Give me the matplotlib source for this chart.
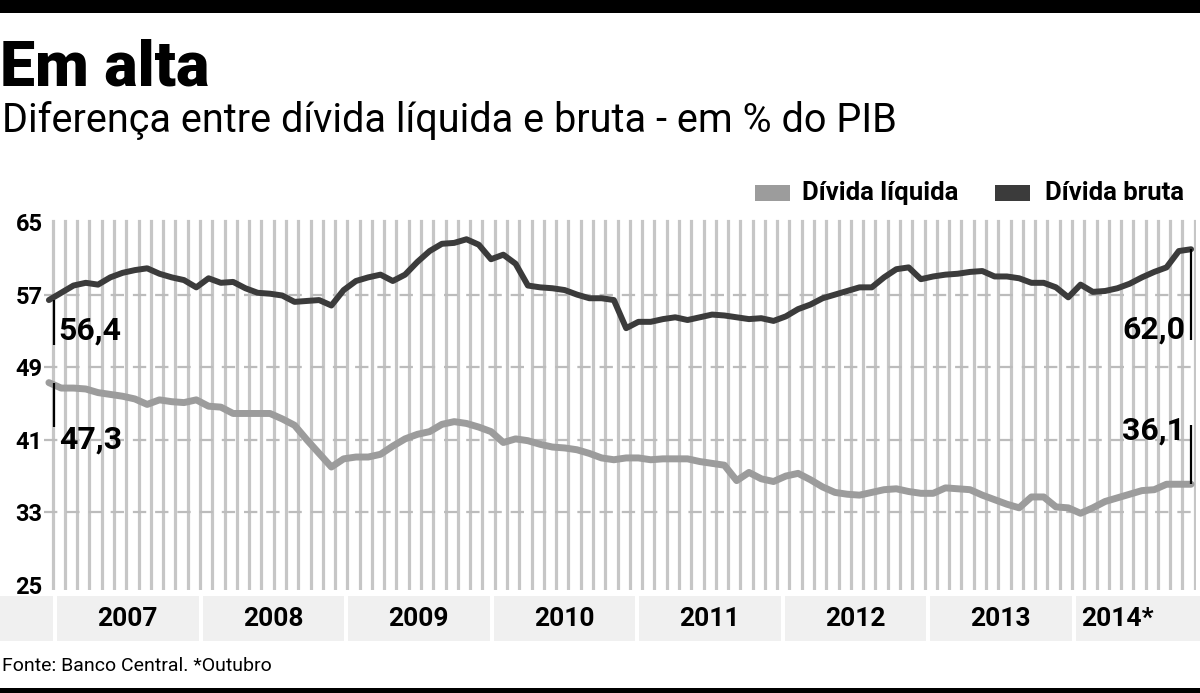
import matplotlib
matplotlib.use("Agg")
import matplotlib.pyplot as plt
from matplotlib.patches import Rectangle
import numpy as np

# monthly values, Jan 2007 .. Oct 2014 (% do PIB)
divida_bruta = [
    56.4, 57.2, 58.0, 58.3, 58.1, 58.9, 59.4, 59.7, 59.9, 59.3, 58.9, 58.6,
    57.8, 58.8, 58.3, 58.4, 57.7, 57.2, 57.1, 56.9, 56.2, 56.3, 56.4, 55.8,
    57.5, 58.5, 58.9, 59.2, 58.5, 59.2, 60.6, 61.8, 62.6, 62.7, 63.1, 62.5,
    60.9, 61.4, 60.4, 58.0, 57.8, 57.7, 57.5, 57.0, 56.6, 56.6, 56.4, 53.3,
    54.0, 54.0, 54.3, 54.5, 54.2, 54.5, 54.8, 54.7, 54.5, 54.3, 54.4, 54.1,
    54.6, 55.4, 55.9, 56.6, 57.0, 57.4, 57.8, 57.8, 58.9, 59.8, 60.0, 58.7,
    59.0, 59.2, 59.3, 59.5, 59.6, 59.0, 59.0, 58.8, 58.3, 58.3, 57.8, 56.7,
    58.1, 57.3, 57.4, 57.7, 58.2, 58.9, 59.5, 60.0, 61.8, 62.0,
]
divida_liquida = [
    47.3, 46.7, 46.7, 46.6, 46.2, 46.0, 45.8, 45.5, 44.9, 45.4, 45.2, 45.1,
    45.4, 44.7, 44.6, 43.9, 43.9, 43.9, 43.9, 43.3, 42.6, 41.0, 39.5, 38.0,
    38.9, 39.1, 39.1, 39.4, 40.3, 41.1, 41.6, 41.9, 42.7, 43.0, 42.8, 42.4,
    41.9, 40.7, 41.1, 40.9, 40.5, 40.2, 40.1, 39.9, 39.5, 39.0, 38.8, 39.0,
    39.0, 38.8, 38.9, 38.9, 38.9, 38.6, 38.4, 38.2, 36.5, 37.4, 36.7, 36.4,
    37.0, 37.3, 36.6, 35.8, 35.2, 35.0, 34.9, 35.2, 35.5, 35.6, 35.3, 35.1,
    35.1, 35.7, 35.6, 35.5, 34.9, 34.4, 33.9, 33.5, 34.7, 34.7, 33.6, 33.5,
    32.9, 33.5, 34.2, 34.6, 35.0, 35.4, 35.5, 36.1, 36.1, 36.1,
]
year_labels = ["2007", "2008", "2009", "2010", "2011", "2012", "2013", "2014*"]
y_ticks = [25, 33, 41, 49, 57, 65]

DARK = "#3b3b3b"
LIGHT = "#9c9c9c"
STRIPE = "#c6c6c6"
BAND = "#f0f0f0"
FONT = ["Roboto", "DejaVu Sans"]

W, H = 1200, 693
plt.rcParams["font.family"] = FONT
fig = plt.figure(figsize=(W / 100, H / 100), dpi=100)


def fx(px):
    return px / W


def fy(py):
    return 1 - py / H


def fmt(v):
    return f"{v:.1f}".replace(".", ",")


n = len(divida_bruta)
x = np.arange(n)
x_lo, x_hi = -0.4, n - 1 + 0.4
y_lo, y_hi = 24.5, 65.3
# axes placed so that the scale matches the reference pixel grid
ax = fig.add_axes([fx(44), fy(589.5), fx(1196 - 44), (589.5 - 219.3) / H])
ax.set_xlim(x_lo, x_hi)
ax.set_ylim(y_lo, y_hi)

for i in x:
    ax.axvline(i + 0.3, ymin=0.005, ymax=0.995, color=STRIPE, lw=2.3, zorder=1)
for t in y_ticks[1:-1]:
    ax.axhline(t, color="#bcbcbc", lw=1.6, dashes=(6, 4), zorder=1.5)

ax.plot(x, divida_liquida, color=LIGHT, lw=5.0, solid_capstyle="round",
        solid_joinstyle="round", zorder=3)
ax.plot(x, divida_bruta, color=DARK, lw=4.3, solid_capstyle="round",
        solid_joinstyle="round", zorder=4)

# value callouts
lab_kw = dict(fontsize=23, fontweight="bold", color="black", zorder=6)
first, last = 0, n - 1
ax.vlines(first + 0.45, divida_bruta[first], 51.4, color="black", lw=1.6, zorder=5)
ax.text(first + 0.8, 53.0, fmt(divida_bruta[first]), ha="left", va="center", **lab_kw)
ax.vlines(first + 0.45, divida_liquida[first], 42.4, color="black", lw=1.6, zorder=5)
ax.text(first + 0.8, 41.0, fmt(divida_liquida[first]), ha="left", va="center", **lab_kw)
ax.vlines(last, divida_bruta[last], 52.0, color="black", lw=1.6, zorder=5)
ax.text(last - 0.5, 53.1, fmt(divida_bruta[last]), ha="right", va="center", **lab_kw)
ax.vlines(last, divida_liquida[last], 42.6, color="black", lw=1.6, zorder=5)
ax.text(last - 0.5, 42.0, fmt(divida_liquida[last]), ha="right", va="center", **lab_kw)

ax.set_yticks(y_ticks)
ax.set_yticklabels([str(t) for t in y_ticks], fontsize=17, fontweight="bold")
ax.tick_params(axis="y", length=0, pad=1)
ax.set_xticks([])
for s in ax.spines.values():
    s.set_visible(False)
ax.patch.set_alpha(0)

# year bands below the plot, laid out in pixel units
bax = fig.add_axes([0, fy(641), 1, 45 / H])
bax.set_xlim(0, W)
bax.set_ylim(0, 1)
bax.axis("off")
band_x0, band_w, gap = 57, 145.5, 4
bax.add_patch(Rectangle((0, 0), band_x0 - gap, 1, color=BAND, lw=0))
for k, lab in enumerate(year_labels):
    a = band_x0 + k * band_w
    last_band = k == len(year_labels) - 1
    b = W if last_band else a + band_w - gap
    bax.add_patch(Rectangle((a, 0), b - a, 1, color=BAND, lw=0))
    cx = a + 42 if last_band else (a + b) / 2
    bax.text(cx, 0.5, lab, ha="center", va="center", fontsize=19,
             fontweight="bold")

# legend
for rx, col, lab, tx in [(755, LIGHT, "Dívida líquida", 802),
                         (995, DARK, "Dívida bruta", 1045)]:
    fig.patches.append(Rectangle((fx(rx), fy(201)), fx(35), 16 / H, color=col,
                                 transform=fig.transFigure, lw=0))
    fig.text(fx(tx), fy(193), lab, fontsize=18.5, fontweight="bold",
             ha="left", va="center")

# titles, source, rules
fig.patches.append(Rectangle((0, fy(13)), 1, 13 / H, color="black",
                             transform=fig.transFigure, lw=0))
fig.patches.append(Rectangle((0, 0), 1, 5 / H, color="black",
                             transform=fig.transFigure, lw=0))
fig.text(fx(0), fy(68), "Em alta", fontsize=45, fontweight="heavy",
         ha="left", va="center")
fig.text(fx(2), fy(120), "Diferença entre dívida líquida e bruta - em % do PIB",
         fontsize=28.5, ha="left", va="center")
fig.text(fx(2), fy(666), "Fonte: Banco Central. *Outubro", fontsize=14,
         ha="left", va="center")

fig.savefig("out.png", dpi=100, facecolor="white")
